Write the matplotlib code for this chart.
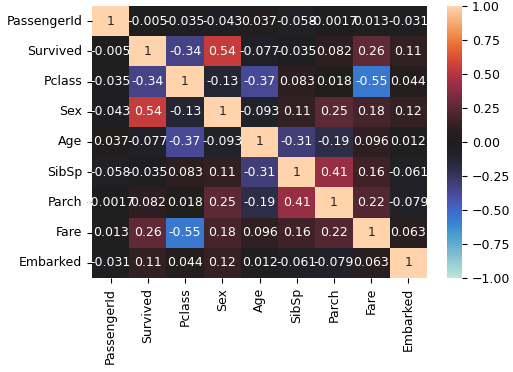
import matplotlib
matplotlib.use("Agg")
import matplotlib.pyplot as plt
import numpy as np
import pandas as pd
import seaborn as sns

# Titanic feature correlations
features = ["PassengerId", "Survived", "Pclass", "Sex", "Age",
            "SibSp", "Parch", "Fare", "Embarked"]

passenger_id = [1, -0.005, -0.035, -0.043, 0.037, -0.058, -0.0017, 0.013, -0.031]
survived = [-0.005, 1, -0.34, 0.54, -0.077, -0.035, 0.082, 0.26, 0.11]
pclass = [-0.035, -0.34, 1, -0.13, -0.37, 0.083, 0.018, -0.55, 0.044]
sex = [-0.043, 0.54, -0.13, 1, -0.093, 0.11, 0.25, 0.18, 0.12]
age = [0.037, -0.077, -0.37, -0.093, 1, -0.31, -0.19, 0.096, 0.012]
sibsp = [-0.058, -0.035, 0.083, 0.11, -0.31, 1, 0.41, 0.16, -0.061]
parch = [-0.0017, 0.082, 0.018, 0.25, -0.19, 0.41, 1, 0.22, -0.079]
fare = [0.013, 0.26, -0.55, 0.18, 0.096, 0.16, 0.22, 1, 0.063]
embarked = [-0.031, 0.11, 0.044, 0.12, 0.012, -0.061, -0.079, 0.063, 1]

cbar_ticks = [-1, -0.75, -0.5, -0.25, 0, 0.25, 0.5, 0.75, 1]

corr = pd.DataFrame(
    [passenger_id, survived, pclass, sex, age, sibsp, parch, fare, embarked],
    index=features, columns=features,
)

fig = plt.figure(figsize=(5.13, 3.72), dpi=100)
ax = fig.add_axes([0.1793, 0.2527, 0.6531, 0.7312])
cax = fig.add_axes([0.8713, 0.2527, 0.0292, 0.7312])

sns.heatmap(corr, ax=ax, cbar_ax=cax, annot=True, cmap="icefire",
            vmin=-1, vmax=1, annot_kws={"fontsize": 9})

ax.tick_params(labelsize=9)
cax.tick_params(labelsize=9)
cax.set_yticks(cbar_ticks)
cax.set_yticklabels([f"{v:.2f}".replace("-", "\u2212") for v in cbar_ticks])

fig.savefig("out.png", dpi=100)
